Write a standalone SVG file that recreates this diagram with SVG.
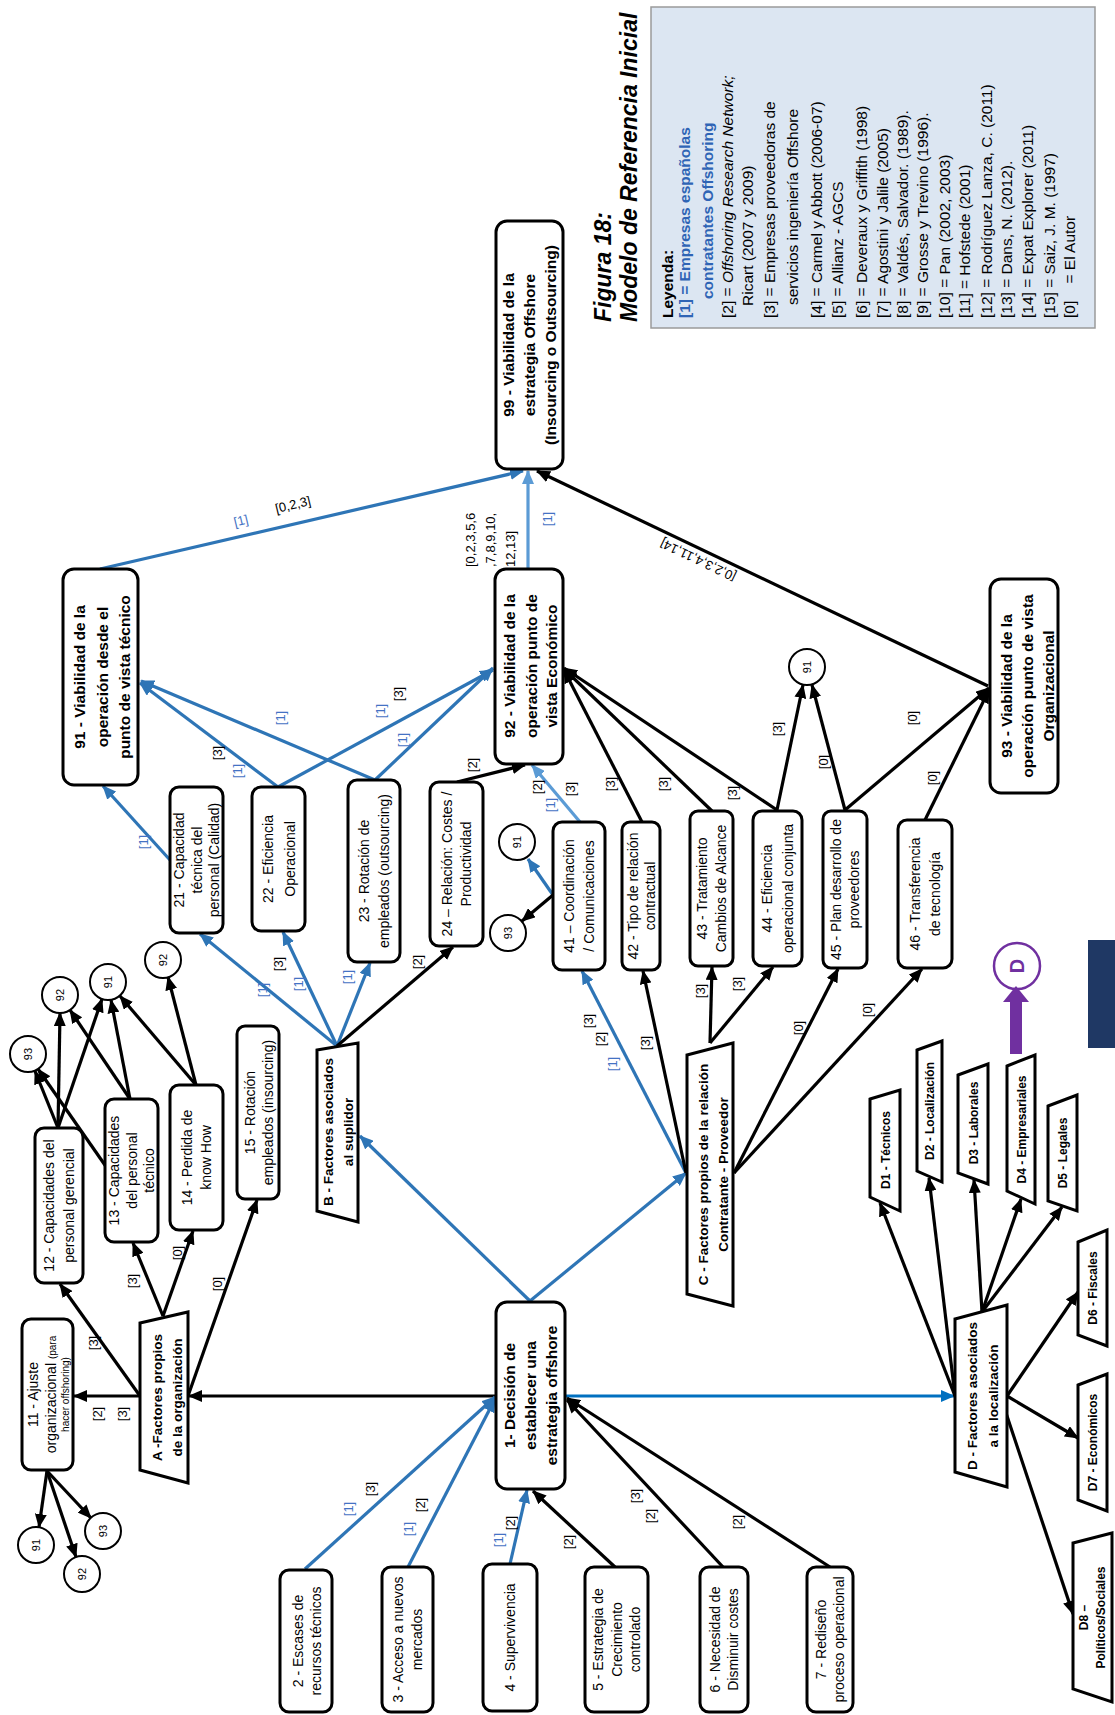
<svg xmlns="http://www.w3.org/2000/svg" width="1115" height="1715" viewBox="0 0 1115 1715">
<defs>
<style>
.bx{fill:#fff;stroke:#000;stroke-width:3}
.tr{fill:#fff;stroke:#000;stroke-width:3;stroke-linejoin:miter}
.ci{fill:#fff;stroke:#000;stroke-width:2}
.k{stroke:#000;stroke-width:3.2;fill:none;marker-end:url(#mk)}
.b{stroke:#2E75B6;stroke-width:3.2;fill:none;marker-end:url(#mb)}
.lb{stroke:#5B9BD5;stroke-width:3.2;fill:none;marker-end:url(#ml)}
.db{stroke:#0070C0;stroke-width:3;fill:none;marker-end:url(#md)}
text{font-family:'Liberation Sans',Arial,sans-serif}
.t{font-size:14px;text-anchor:middle}
.h{font-size:15.5px;font-weight:bold;text-anchor:middle}
.f{font-size:13.5px;font-weight:bold;text-anchor:middle}
.d{font-size:12px;font-weight:bold;text-anchor:middle}
.c{font-size:11px;text-anchor:middle}
.e{font-size:13px;text-anchor:middle;fill:#000}
.e1{font-size:13px;text-anchor:middle;fill:#4472C4}
.lg{font-size:15.5px}
.lgb{font-size:15.5px;font-weight:bold;fill:#2F64B5}
.ttl{font-size:23px;font-weight:bold;font-style:italic}
</style>
<marker id="mk" viewBox="0 0 14 12" refX="13" refY="6" markerWidth="14" markerHeight="12" markerUnits="userSpaceOnUse" orient="auto"><path d="M0,0 L14,6 L0,12 z" fill="#000"/></marker>
<marker id="mb" viewBox="0 0 14 12" refX="13" refY="6" markerWidth="14" markerHeight="12" markerUnits="userSpaceOnUse" orient="auto"><path d="M0,0 L14,6 L0,12 z" fill="#2E75B6"/></marker>
<marker id="ml" viewBox="0 0 14 12" refX="13" refY="6" markerWidth="14" markerHeight="12" markerUnits="userSpaceOnUse" orient="auto"><path d="M0,0 L14,6 L0,12 z" fill="#5B9BD5"/></marker>
<marker id="md" viewBox="0 0 14 12" refX="13" refY="6" markerWidth="14" markerHeight="12" markerUnits="userSpaceOnUse" orient="auto"><path d="M0,0 L14,6 L0,12 z" fill="#0070C0"/></marker>
</defs>
<rect width="1115" height="1715" fill="#fff"/>

<!-- connectors -->
<g id="connectors">
<line class="b" x1="100" y1="569" x2="523" y2="471"/>
<line class="lb" x1="528" y1="569" x2="528" y2="471"/>
<line class="k" x1="988" y1="686" x2="537" y2="471"/>
<line class="b" x1="170" y1="860" x2="103" y2="786"/>
<line class="b" x1="278" y1="787" x2="140" y2="683"/>
<line class="b" x1="375" y1="780" x2="141" y2="681"/>
<line class="b" x1="278" y1="787" x2="493" y2="670"/>
<line class="b" x1="375" y1="780" x2="493" y2="668"/>
<line class="k" x1="457" y1="782" x2="525" y2="765"/>
<line class="b" x1="337" y1="1046" x2="200" y2="934"/>
<line class="b" x1="337" y1="1046" x2="283" y2="932"/>
<line class="b" x1="337" y1="1046" x2="370" y2="963"/>
<line class="k" x1="337" y1="1046" x2="453" y2="947"/>
<line class="b" x1="530" y1="1301" x2="360" y2="1136"/>
<line class="b" x1="530" y1="1301" x2="686" y2="1173"/>
<line class="db" x1="565" y1="1396" x2="954" y2="1396"/>
<line class="k" x1="496" y1="1396" x2="189" y2="1396"/>
<line class="lb" x1="580" y1="822" x2="532" y2="765"/>
<line class="b" x1="553" y1="895" x2="528" y2="859"/>
<line class="k" x1="553" y1="895" x2="522" y2="921"/>
<line class="k" x1="642" y1="822" x2="564" y2="670"/>
<line class="k" x1="712" y1="811" x2="564" y2="669"/>
<line class="k" x1="777" y1="810" x2="564" y2="668"/>
<line class="k" x1="777" y1="810" x2="803" y2="685"/>
<line class="k" x1="845" y1="810" x2="812" y2="685"/>
<line class="k" x1="845" y1="810" x2="989" y2="688"/>
<line class="k" x1="925" y1="820" x2="989" y2="690"/>
<line class="b" x1="686" y1="1173" x2="582" y2="971"/>
<line class="k" x1="686" y1="1173" x2="643" y2="971"/>
<line class="k" x1="710" y1="1043" x2="712" y2="967"/>
<line class="k" x1="710" y1="1043" x2="773" y2="967"/>
<line class="k" x1="734" y1="1173" x2="838" y2="969"/>
<line class="k" x1="734" y1="1173" x2="922" y2="969"/>
<line class="k" x1="140" y1="1396" x2="74" y2="1396"/>
<line class="k" x1="140" y1="1396" x2="60" y2="1284"/>
<line class="k" x1="163" y1="1316" x2="133" y2="1243"/>
<line class="k" x1="163" y1="1316" x2="193" y2="1231"/>
<line class="k" x1="188" y1="1396" x2="257" y2="1200"/>
<line class="k" x1="47" y1="1471" x2="39" y2="1527"/>
<line class="k" x1="47" y1="1471" x2="76" y2="1557"/>
<line class="k" x1="47" y1="1471" x2="91" y2="1518"/>
<line class="k" x1="58" y1="1128" x2="35" y2="1071"/>
<line class="k" x1="58" y1="1128" x2="60" y2="1013"/>
<line class="k" x1="58" y1="1128" x2="102" y2="999"/>
<line class="k" x1="107" y1="1168" x2="38" y2="1069"/>
<line class="k" x1="130" y1="1099" x2="70" y2="1010"/>
<line class="k" x1="130" y1="1099" x2="111" y2="1000"/>
<line class="k" x1="196" y1="1085" x2="120" y2="996"/>
<line class="k" x1="196" y1="1085" x2="168" y2="977"/>
<line class="b" x1="305" y1="1569" x2="495" y2="1397"/>
<line class="b" x1="408" y1="1567" x2="495" y2="1399"/>
<line class="b" x1="510" y1="1564" x2="527" y2="1490"/>
<line class="k" x1="615" y1="1567" x2="533" y2="1491"/>
<line class="k" x1="723" y1="1567" x2="567" y2="1400"/>
<line class="k" x1="830" y1="1567" x2="567" y2="1398"/>
<line class="k" x1="955" y1="1396" x2="880" y2="1203"/>
<line class="k" x1="955" y1="1396" x2="929" y2="1178"/>
<line class="k" x1="982" y1="1312" x2="974" y2="1180"/>
<line class="k" x1="982" y1="1312" x2="1021" y2="1199"/>
<line class="k" x1="982" y1="1312" x2="1062" y2="1207"/>
<line class="k" x1="1007" y1="1396" x2="1078" y2="1292"/>
<line class="k" x1="1007" y1="1396" x2="1078" y2="1438"/>
<line class="k" x1="1005" y1="1410" x2="1073" y2="1614"/>
</g>

<!-- connector labels -->
<g id="edge-labels">
<text class="e1" transform="translate(242 525) rotate(-13.4)">[1]</text>
<text class="e" transform="translate(294 509) rotate(-13.4)">[0,2,3]</text>
<text class="e" style="text-anchor:start" transform="translate(475 567) rotate(-90)">[0,2,3,5,6</text>
<text class="e" style="text-anchor:start" transform="translate(495 567) rotate(-90)">,7,8,9,10,</text>
<text class="e" style="text-anchor:start" transform="translate(515 567) rotate(-90)">12,13]</text>
<text class="e1" transform="translate(551.5 519) rotate(-90)">[1]</text>
<text class="e" transform="translate(700 556) rotate(205.4)">[0,2,3,4,11,14]</text>
<text class="e1" transform="translate(147.5 842) rotate(-90)">[1]</text>
<text class="e" transform="translate(221.5 753) rotate(-90)">[3]</text>
<text class="e1" transform="translate(241.5 771) rotate(-90)">[1]</text>
<text class="e1" transform="translate(284.5 718) rotate(-90)">[1]</text>
<text class="e1" transform="translate(384.5 711) rotate(-90)">[1]</text>
<text class="e" transform="translate(402.5 694) rotate(-90)">[3]</text>
<text class="e1" transform="translate(406.5 740) rotate(-90)">[1]</text>
<text class="e1" transform="translate(266.5 990) rotate(-90)">[1]</text>
<text class="e" transform="translate(282.5 964) rotate(-90)">[3]</text>
<text class="e1" transform="translate(302.5 984) rotate(-90)">[1]</text>
<text class="e1" transform="translate(351.5 977) rotate(-90)">[1]</text>
<text class="e" transform="translate(421.5 962) rotate(-90)">[2]</text>
<text class="e" transform="translate(476.5 765) rotate(-90)">[2]</text>
<text class="e" transform="translate(541.5 787) rotate(-90)">[2]</text>
<text class="e1" transform="translate(554.5 805) rotate(-90)">[1]</text>
<text class="e" transform="translate(574.5 789) rotate(-90)">[3]</text>
<text class="e" transform="translate(614.5 784) rotate(-90)">[3]</text>
<text class="e" transform="translate(667.5 784) rotate(-90)">[3]</text>
<text class="e" transform="translate(736.5 793) rotate(-90)">[3]</text>
<text class="e" transform="translate(781.5 729) rotate(-90)">[3]</text>
<text class="e" transform="translate(827.5 762) rotate(-90)">[0]</text>
<text class="e" transform="translate(916.5 718) rotate(-90)">[0]</text>
<text class="e" transform="translate(936.5 778) rotate(-90)">[0]</text>
<text class="e" transform="translate(592.5 1021) rotate(-90)">[3]</text>
<text class="e" transform="translate(604.5 1039) rotate(-90)">[2]</text>
<text class="e1" transform="translate(616.5 1064) rotate(-90)">[1]</text>
<text class="e" transform="translate(649.5 1043) rotate(-90)">[3]</text>
<text class="e" transform="translate(704.5 991) rotate(-90)">[3]</text>
<text class="e" transform="translate(741.5 984) rotate(-90)">[3]</text>
<text class="e" transform="translate(802.5 1028) rotate(-90)">[0]</text>
<text class="e" transform="translate(871.5 1010) rotate(-90)">[0]</text>
<text class="e" transform="translate(101.5 1414) rotate(-90)">[2]</text>
<text class="e" transform="translate(126.5 1414) rotate(-90)">[3]</text>
<text class="e" transform="translate(97.5 1343) rotate(-90)">[3]</text>
<text class="e" transform="translate(136.5 1281) rotate(-90)">[3]</text>
<text class="e" transform="translate(181.5 1253) rotate(-90)">[0]</text>
<text class="e" transform="translate(221.5 1284) rotate(-90)">[0]</text>
<text class="e1" transform="translate(352.5 1509) rotate(-90)">[1]</text>
<text class="e" transform="translate(374.5 1489) rotate(-90)">[3]</text>
<text class="e1" transform="translate(412.5 1529) rotate(-90)">[1]</text>
<text class="e" transform="translate(424.5 1505) rotate(-90)">[2]</text>
<text class="e1" transform="translate(502.5 1540) rotate(-90)">[1]</text>
<text class="e" transform="translate(514.5 1523) rotate(-90)">[2]</text>
<text class="e" transform="translate(572.5 1542) rotate(-90)">[2]</text>
<text class="e" transform="translate(639.5 1496) rotate(-90)">[3]</text>
<text class="e" transform="translate(654.5 1516) rotate(-90)">[2]</text>
<text class="e" transform="translate(741.5 1522) rotate(-90)">[2]</text>
</g>

<!-- outcome nodes -->
<g id="n99"><rect class="bx" x="496" y="221" width="67" height="248" rx="11"/>
<text class="h" transform="translate(514 345) rotate(-90)">99 - Viabilidad de la</text>
<text class="h" transform="translate(535 345) rotate(-90)">estrategia Offshore</text>
<text class="h" transform="translate(556 345) rotate(-90)">(Insourcing o Outsourcing)</text></g>
<g id="n91"><rect class="bx" x="63" y="569" width="75" height="216" rx="11"/>
<text class="h" transform="translate(85 677) rotate(-90)">91 - Viabilidad de la</text>
<text class="h" transform="translate(108 677) rotate(-90)">operación desde el</text>
<text class="h" transform="translate(130 677) rotate(-90)">punto de vista técnico</text></g>
<g id="n92"><rect class="bx" x="495" y="569" width="68" height="195" rx="11"/>
<text class="h" transform="translate(515 666) rotate(-90)">92 - Viabilidad de la</text>
<text class="h" transform="translate(537 666) rotate(-90)">operación punto de</text>
<text class="h" transform="translate(557 666) rotate(-90)">vista Económico</text></g>
<g id="n93"><rect class="bx" x="990" y="579" width="68" height="214" rx="11"/>
<text class="h" transform="translate(1012 686) rotate(-90)">93 - Viabilidad de la</text>
<text class="h" transform="translate(1033 686) rotate(-90)">operación punto de vista</text>
<text class="h" transform="translate(1054 686) rotate(-90)">Organizacional</text></g>
<g id="n1"><rect class="bx" x="496" y="1302" width="69" height="187" rx="11"/>
<text class="h" transform="translate(515 1395.5) rotate(-90)">1- Decisión de</text>
<text class="h" transform="translate(536 1395.5) rotate(-90)">establecer una</text>
<text class="h" transform="translate(557 1395.5) rotate(-90)">estrategia offshore</text></g>

<!-- factor nodes -->
<g id="n21"><rect class="bx" x="170" y="787" width="53" height="146" rx="9"/>
<text class="t" transform="translate(184 860) rotate(-90)">21 - Capacidad</text>
<text class="t" transform="translate(201.5 860) rotate(-90)">técnica del</text>
<text class="t" transform="translate(219 860) rotate(-90)">personal (Calidad)</text></g>
<g id="n22"><rect class="bx" x="252" y="787" width="53" height="144" rx="9"/>
<text class="t" transform="translate(272.5 859) rotate(-90)">22 - Eficiencia</text>
<text class="t" transform="translate(294.5 859) rotate(-90)">Operacional</text></g>
<g id="n23"><rect class="bx" x="348" y="780" width="52" height="182" rx="9"/>
<text class="t" transform="translate(369 871) rotate(-90)">23 - Rotación de</text>
<text class="t" transform="translate(389 871) rotate(-90)">empleados (outsourcing)</text></g>
<g id="n24"><rect class="bx" x="430" y="782" width="53" height="164" rx="9"/>
<text class="t" transform="translate(452 864) rotate(-90)">24 – Relación: Costes /</text>
<text class="t" transform="translate(471 864) rotate(-90)">Productividad</text></g>
<g id="n41"><rect class="bx" x="553" y="822" width="52" height="148" rx="9"/>
<text class="t" transform="translate(574 896) rotate(-90)">41 –  Coordinación</text>
<text class="t" transform="translate(594 896) rotate(-90)">/ Comunicaciones</text></g>
<g id="n42"><rect class="bx" x="622" y="822" width="38" height="148" rx="8"/>
<text class="t" transform="translate(637.5 896) rotate(-90)">42 - Tipo de relación</text>
<text class="t" transform="translate(654.5 896) rotate(-90)">contractual</text></g>
<g id="n43"><rect class="bx" x="690" y="811" width="43" height="155" rx="8"/>
<text class="t" transform="translate(707 888.5) rotate(-90)">43 - Tratamiento</text>
<text class="t" transform="translate(726 888.5) rotate(-90)">Cambios de Alcance</text></g>
<g id="n44"><rect class="bx" x="753" y="811" width="49" height="155" rx="9"/>
<text class="t" transform="translate(772 888.5) rotate(-90)">44 - Eficiencia</text>
<text class="t" transform="translate(793 888.5) rotate(-90)">operacional conjunta</text></g>
<g id="n45"><rect class="bx" x="823" y="811" width="44" height="157" rx="8"/>
<text class="t" transform="translate(841 889.5) rotate(-90)">45 - Plan desarrollo de</text>
<text class="t" transform="translate(859 889.5) rotate(-90)">proveedores</text></g>
<g id="n46"><rect class="bx" x="898" y="820" width="54" height="148" rx="9"/>
<text class="t" transform="translate(920 894) rotate(-90)">46 - Transferencia</text>
<text class="t" transform="translate(940 894) rotate(-90)">de tecnología</text></g>
<g id="n11"><rect class="bx" x="22" y="1319" width="51" height="151" rx="9"/>
<text class="t" transform="translate(38 1394.5) rotate(-90)">11 - Ajuste</text>
<text class="t" transform="translate(56 1394.5) rotate(-90)">organizacional <tspan style="font-size:10px">(para</tspan></text>
<text class="t" style="font-size:10px" transform="translate(68.5 1394.5) rotate(-90)">hacer offshoring)</text></g>
<g id="n12"><rect class="bx" x="35" y="1128" width="48" height="155" rx="9"/>
<text class="t" transform="translate(54 1205.5) rotate(-90)">12 - Capacidades del</text>
<text class="t" transform="translate(74 1205.5) rotate(-90)">personal gerencial</text></g>
<g id="n13"><rect class="bx" x="105" y="1099" width="53" height="143" rx="9"/>
<text class="t" transform="translate(119 1170.5) rotate(-90)">13 - Capacidades</text>
<text class="t" transform="translate(136.5 1170.5) rotate(-90)">del  personal</text>
<text class="t" transform="translate(154 1170.5) rotate(-90)">técnico</text></g>
<g id="n14"><rect class="bx" x="170" y="1085" width="53" height="145" rx="9"/>
<text class="t" transform="translate(192 1157.5) rotate(-90)">14 - Perdida de</text>
<text class="t" transform="translate(211 1157.5) rotate(-90)">know How</text></g>
<g id="n15"><rect class="bx" x="237" y="1026" width="42" height="173" rx="8"/>
<text class="t" transform="translate(255 1112.5) rotate(-90)">15 - Rotación</text>
<text class="t" transform="translate(273 1112.5) rotate(-90)">empleados (insourcing)</text></g>
<g id="n2"><rect class="bx" x="280" y="1570" width="52" height="142" rx="9"/>
<text class="t" transform="translate(303 1641) rotate(-90)">2 - Escases de</text>
<text class="t" transform="translate(321 1641) rotate(-90)">recursos técnicos</text></g>
<g id="n3"><rect class="bx" x="382" y="1567" width="51" height="145" rx="9"/>
<text class="t" transform="translate(403 1639.5) rotate(-90)">3 - Acceso a nuevos</text>
<text class="t" transform="translate(422 1639.5) rotate(-90)">mercados</text></g>
<g id="n4"><rect class="bx" x="483" y="1564" width="54" height="147" rx="9"/>
<text class="t" transform="translate(515 1637.5) rotate(-90)">4 - Supervivencia</text></g>
<g id="n5"><rect class="bx" x="585" y="1567" width="63" height="145" rx="9"/>
<text class="t" transform="translate(603 1639.5) rotate(-90)">5 - Estrategia de</text>
<text class="t" transform="translate(621.5 1639.5) rotate(-90)">Crecimiento</text>
<text class="t" transform="translate(640 1639.5) rotate(-90)">controlado</text></g>
<g id="n6"><rect class="bx" x="700" y="1567" width="48" height="145" rx="9"/>
<text class="t" transform="translate(720 1639.5) rotate(-90)">6 - Necesidad de</text>
<text class="t" transform="translate(738 1639.5) rotate(-90)">Disminuir costes</text></g>
<g id="n7"><rect class="bx" x="807" y="1567" width="46" height="145" rx="9"/>
<text class="t" transform="translate(826 1639.5) rotate(-90)">7 - Rediseño</text>
<text class="t" transform="translate(844 1639.5) rotate(-90)">proceso operacional</text></g>

<!-- group nodes (trapezoids) -->
<g id="nA"><polygon class="tr" points="140,1323 188,1312 188,1483 140,1470"/>
<text class="f" transform="translate(161.5 1397.5) rotate(-90)">A -Factores propios</text>
<text class="f" transform="translate(181.5 1397.5) rotate(-90)">de la organización</text></g>
<g id="nB"><polygon class="tr" points="317,1050 358,1043 358,1222 317,1211"/>
<text class="f" transform="translate(333 1132) rotate(-90)">B - Factores asociados</text>
<text class="f" transform="translate(353 1132) rotate(-90)">al suplidor</text></g>
<g id="nC"><polygon class="tr" points="687,1055 733,1043 733,1306 687,1294"/>
<text class="f" transform="translate(708 1174.5) rotate(-90)">C - Factores propios de la relación</text>
<text class="f" transform="translate(728 1174.5) rotate(-90)">Contratante - Proveedor</text></g>
<g id="nD"><polygon class="tr" points="955,1319 1007,1305 1007,1487 955,1472"/>
<text class="f" transform="translate(977 1396) rotate(-90)">D - Factores asociados</text>
<text class="f" transform="translate(998 1396) rotate(-90)">a la localización</text></g>
<g id="nD1"><polygon class="tr" points="870,1099 900,1090 900,1211 870,1197"/>
<text class="d" transform="translate(889.5 1150) rotate(-90)">D1 - Técnicos</text></g>
<g id="nD2"><polygon class="tr" points="917,1050 942,1041 942,1182 917,1171"/>
<text class="d" transform="translate(934 1111) rotate(-90)">D2 - Localización</text></g>
<g id="nD3"><polygon class="tr" points="958,1075 988,1064 988,1184 958,1173"/>
<text class="d" transform="translate(977.5 1123) rotate(-90)">D3 - Laborales</text></g>
<g id="nD4"><polygon class="tr" points="1007,1066 1035,1055 1035,1204 1007,1191"/>
<text class="d" transform="translate(1025.5 1129.5) rotate(-90)">D4 - Empresariales</text></g>
<g id="nD5"><polygon class="tr" points="1048,1106 1077,1095 1077,1211 1048,1201"/>
<text class="d" transform="translate(1067 1153) rotate(-90)">D5 - Legales</text></g>
<g id="nD6"><polygon class="tr" points="1078,1242 1107,1230 1107,1346 1078,1335"/>
<text class="d" transform="translate(1097 1288) rotate(-90)">D6 - Fiscales</text></g>
<g id="nD7"><polygon class="tr" points="1078,1385 1107,1374 1107,1511 1078,1500"/>
<text class="d" transform="translate(1097 1442.5) rotate(-90)">D7 - Económicos</text></g>
<g id="nD8"><polygon class="tr" points="1073,1543 1112,1533 1112,1702 1073,1689"/>
<text class="d" transform="translate(1088 1617.5) rotate(-90)">D8 –</text>
<text class="d" transform="translate(1105 1617.5) rotate(-90)">Políticos/Sociales</text></g>

<!-- reference circles -->
<g id="c93a"><circle class="ci" cx="28" cy="1054" r="18"/><text class="c" transform="translate(32 1054) rotate(-90)">93</text></g>
<g id="c92a"><circle class="ci" cx="60" cy="995" r="18"/><text class="c" transform="translate(64 995) rotate(-90)">92</text></g>
<g id="c91a"><circle class="ci" cx="108" cy="982" r="18"/><text class="c" transform="translate(112 982) rotate(-90)">91</text></g>
<g id="c92b"><circle class="ci" cx="163" cy="960" r="18"/><text class="c" transform="translate(167 960) rotate(-90)">92</text></g>
<g id="c91b"><circle class="ci" cx="36" cy="1545" r="18"/><text class="c" transform="translate(40 1545) rotate(-90)">91</text></g>
<g id="c92c"><circle class="ci" cx="82" cy="1574" r="18"/><text class="c" transform="translate(86 1574) rotate(-90)">92</text></g>
<g id="c93b"><circle class="ci" cx="103" cy="1531" r="18"/><text class="c" transform="translate(107 1531) rotate(-90)">93</text></g>
<g id="c91c"><circle class="ci" cx="517" cy="842" r="18"/><text class="c" transform="translate(521 842) rotate(-90)">91</text></g>
<g id="c93c"><circle class="ci" cx="508" cy="933" r="18"/><text class="c" transform="translate(512 933) rotate(-90)">93</text></g>
<g id="c91d"><circle class="ci" cx="807" cy="667" r="18"/><text class="c" transform="translate(811 667) rotate(-90)">91</text></g>

<!-- off-page connector D -->
<g id="offpageD">
<circle cx="1017" cy="966" r="23" fill="#fff" stroke="#7030A0" stroke-width="2.5"/>
<text transform="translate(1024 966) rotate(-90)" style="font-size:20px;font-weight:bold;fill:#7030A0;text-anchor:middle">D</text>
<polygon points="1010,1054 1022,1054 1022,1002 1029,1002 1016,986 1003,1002 1010,1002" fill="#7030A0"/>
</g>

<!-- title and legend -->
<g id="title">
<text class="ttl" transform="translate(611 322) rotate(-90)">Figura 18:</text>
<text class="ttl" transform="translate(637 322) rotate(-90)">Modelo de Referencia Inicial</text>
</g>
<g id="legend">
<rect x="651" y="7" width="444" height="321" fill="#DCE6F2" stroke="#9A9A9A" stroke-width="1.5"/>
<text class="lg" style="font-weight:bold" transform="translate(673 318) rotate(-90)">Leyenda:</text>
<text class="lgb" transform="translate(690 318) rotate(-90)">[1] = Empresas españolas</text>
<text class="lgb" transform="translate(713 299) rotate(-90)">contratantes Offshoring</text>
<text class="lg" transform="translate(733 318) rotate(-90)">[2] = <tspan style="font-style:italic">Offshoring Research Network;</tspan></text>
<text class="lg" transform="translate(753 306) rotate(-90)">Ricart (2007 y 2009)</text>
<text class="lg" transform="translate(775 318) rotate(-90)">[3] = Empresas proveedoras de</text>
<text class="lg" transform="translate(798 305) rotate(-90)">servicios ingeniería Offshore</text>
<text class="lg" transform="translate(822 318) rotate(-90)">[4] = Carmel y Abbott (2006-07)</text>
<text class="lg" transform="translate(843 318) rotate(-90)">[5] = Allianz - AGCS</text>
<text class="lg" transform="translate(867 318) rotate(-90)">[6] = Deveraux y Griffith (1998)</text>
<text class="lg" transform="translate(888 318) rotate(-90)">[7] = Agostini y Jalile (2005)</text>
<text class="lg" transform="translate(908 318) rotate(-90)">[8] = Valdés, Salvador. (1989).</text>
<text class="lg" transform="translate(928 318) rotate(-90)">[9] = Grosse y Trevino (1996).</text>
<text class="lg" transform="translate(950 318) rotate(-90)">[10] = Pan (2002, 2003)</text>
<text class="lg" transform="translate(970 318) rotate(-90)">[11] = Hofstede (2001)</text>
<text class="lg" transform="translate(992 318) rotate(-90)">[12] = Rodríguez Lanza, C. (2011)</text>
<text class="lg" transform="translate(1012 318) rotate(-90)">[13] = Dans, N. (2012).</text>
<text class="lg" transform="translate(1033 318) rotate(-90)">[14] = Expat Explorer (2011)</text>
<text class="lg" transform="translate(1055 318) rotate(-90)">[15]  = Saiz, J. M. (1997)</text>
<text class="lg" transform="translate(1075 318) rotate(-90)" xml:space="preserve">[0]    = El Autor</text>
</g>

<rect x="1088" y="940" width="27" height="108" fill="#1F3864"/>
</svg>
